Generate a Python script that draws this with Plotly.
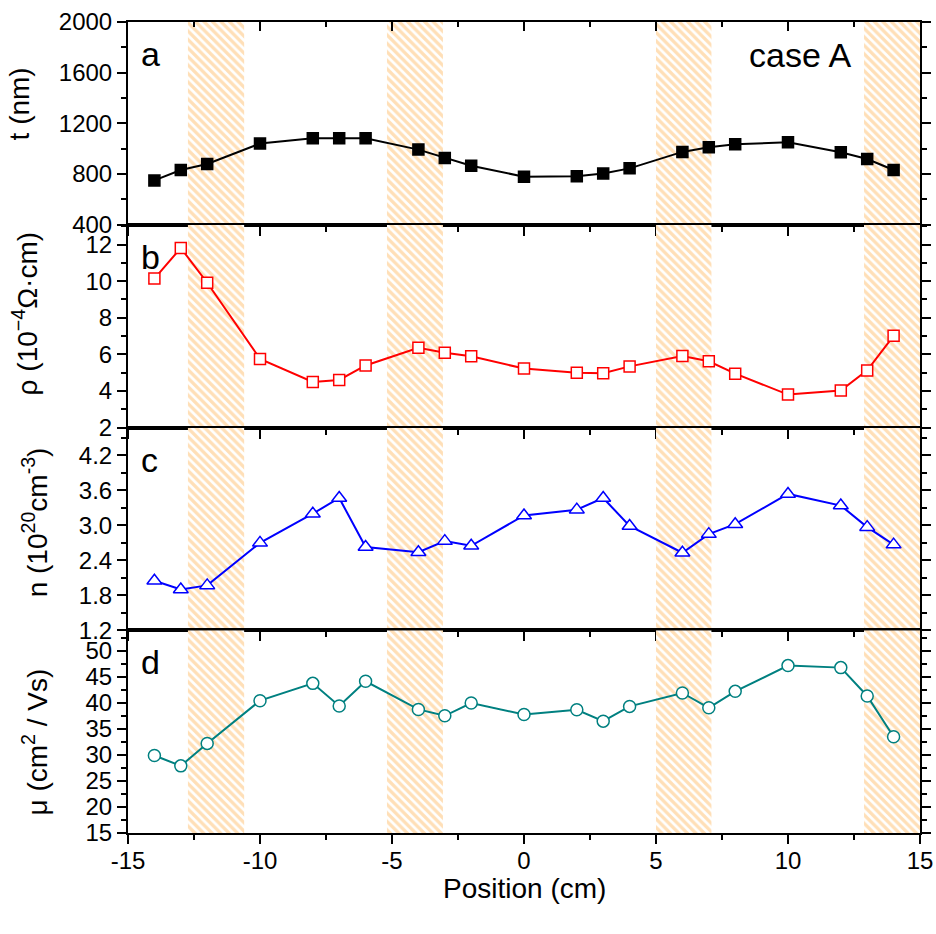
import plotly.graph_objects as go

# ---------------- data ----------------
x_pos = [-14, -13, -12, -10, -8, -7, -6, -4, -3, -2, 0, 2, 3, 4, 6, 7, 8, 10, 12, 13, 14]
t_nm = [750, 832, 879, 1041, 1083, 1083, 1083, 993, 927, 866, 779, 783, 805, 845,
        975, 1011, 1035, 1051, 972, 919, 832]
rho = [10.14, 11.81, 9.91, 5.75, 4.49, 4.60, 5.39, 6.36, 6.09, 5.89, 5.22, 4.99, 4.96,
       5.34, 5.91, 5.62, 4.94, 3.80, 4.02, 5.12, 7.01]
n_carrier = [2.05, 1.90, 1.97, 2.70, 3.20, 3.47, 2.63, 2.54, 2.73, 2.65, 3.17, 3.27, 3.47,
             2.99, 2.53, 2.85, 3.02, 3.54, 3.34, 2.97, 2.67]
mu = [29.87, 27.88, 32.19, 40.39, 43.71, 39.36, 44.10, 38.71, 37.49, 39.94, 37.75, 38.65,
      36.46, 39.29, 41.86, 39.03, 42.18, 47.12, 46.73, 41.29, 33.47]

band_start = [-12.73, -5.19, 5.0, 12.88]
band_end = [-10.6, -3.07, 7.1, 15.0]

x_tickvals = [-15, -10, -5, 0, 5, 10, 15]
x_ticktext = ["-15", "-10", "-5", "0", "5", "10", "15"]

panel_letters = ["a", "b", "c", "d"]
y_titles = ["t (nm)", "ρ (10<sup>−4</sup>Ω·cm)", "n (10<sup>20</sup>cm<sup>-3</sup>)",
            "μ (cm<sup>2</sup> / Vs)"]
y_ranges = [[400, 2000], [2, 13.08], [1.2, 4.68], [15, 53.9]]
y_dticks = [400, 2, 0.6, 5]
y_formats = ["d", "d", ".1f", "d"]

series = [t_nm, rho, n_carrier, mu]
colors = ["black", "#FF0000", "#0000FF", "#008080"]
symbols = ["square", "square", "triangle-up", "circle"]
fills = ["black", "white", "white", "white"]
msizes = [11, 11, 13, 12]

# ---------------- figure ----------------
FONT = "Liberation Sans, Arial, sans-serif"
fig = go.Figure()

domains = [[0.75, 1.0], [0.5, 0.75], [0.25, 0.5], [0.0, 0.25]]
xr = [-15, 15]

for i in range(4):
    xa = "x" if i == 0 else f"x{i+1}"
    ya = "y" if i == 0 else f"y{i+1}"
    y0, y1 = y_ranges[i]
    # hatched bands
    for bs, be in zip(band_start, band_end):
        fig.add_trace(go.Scatter(
            x=[bs, be, be, bs, bs], y=[y0, y0, y1, y1, y0],
            mode="none", fill="toself", fillcolor="rgba(255,255,255,0)",
            fillpattern=dict(shape="\\", fgcolor="#FFC070", bgcolor="white",
                             size=6, solidity=0.55),
            hoverinfo="skip", showlegend=False, xaxis=xa, yaxis=ya))
    # data
    fig.add_trace(go.Scatter(
        x=x_pos, y=series[i], mode="lines+markers",
        line=dict(color=colors[i], width=2),
        marker=dict(symbol=symbols[i], size=msizes[i],
                    color=fills[i], line=dict(color=colors[i], width=1.5)),
        showlegend=False, xaxis=xa, yaxis=ya))

# helper trace so that the top tick axis of panel a is drawn
fig.add_trace(go.Scatter(x=[0], y=[None], mode="markers", xaxis="x5", yaxis="y",
                         showlegend=False, hoverinfo="skip"))

layout = dict(
    width=936, height=934,
    margin=dict(l=128, r=16, t=22, b=101, autoexpand=False),
    paper_bgcolor="white", plot_bgcolor="rgba(0,0,0,0)",
    font=dict(family=FONT, size=24, color="black"),
    showlegend=False,
)

for i in range(4):
    xk = "xaxis" if i == 0 else f"xaxis{i+1}"
    yk = "yaxis" if i == 0 else f"yaxis{i+1}"
    ya = "y" if i == 0 else f"y{i+1}"
    xa = "x" if i == 0 else f"x{i+1}"
    layout[xk] = dict(
        range=xr, anchor=ya, domain=[0, 1], automargin=False,
        showline=True, linecolor="black", linewidth=2, mirror=True,
        ticks="outside", ticklen=9, tickwidth=2, tickcolor="black",
        tickvals=x_tickvals, ticktext=x_ticktext,
        minor=dict(ticks="outside", ticklen=5, tickwidth=2, dtick=2.5, tick0=0,
                   tickcolor="black", showgrid=False),
        showgrid=False, zeroline=False,
        showticklabels=(i == 3),
        tickfont=dict(size=24),
    )
    layout[yk] = dict(
        range=y_ranges[i], anchor=xa, domain=domains[i], automargin=False,
        showline=True, linecolor="black", linewidth=2, mirror="ticks",
        ticks="outside", ticklen=9, tickwidth=2, tickcolor="black",
        dtick=y_dticks[i], tick0=0, tickformat=y_formats[i],
        minor=dict(ticks="outside", ticklen=5, tickwidth=2, dtick=y_dticks[i] / 2,
                   tick0=0, tickcolor="black", showgrid=False),
        showgrid=False, zeroline=False,
        tickfont=dict(size=24),
    )

layout["xaxis4"]["ticklabelstandoff"] = -4

# top axis of panel a with inward ticks
layout["xaxis5"] = dict(
    range=xr, overlaying="x", side="top", anchor="y", automargin=False,
    showline=False, ticks="inside", ticklen=9, tickwidth=2, tickcolor="black",
    tickvals=x_tickvals, showticklabels=False,
    minor=dict(ticks="inside", ticklen=5, tickwidth=2, dtick=2.5, tick0=0,
               tickcolor="black"),
    showgrid=False, zeroline=False,
)

fig.update_layout(**layout)

# x-axis title
fig.add_annotation(x=0.5, y=-0.069, xref="paper", yref="paper", text="Position (cm)",
                   showarrow=False, xanchor="center", yanchor="middle",
                   font=dict(size=28, family=FONT))

# y-axis titles as rotated annotations
title_pos = [(-0.137, 0.899), (-0.1295, 0.640), (-0.117, 0.3835), (-0.117, 0.112)]
for (tx, ty), txt in zip(title_pos, y_titles):
    fig.add_annotation(x=tx, y=ty, xref="paper", yref="paper", text=txt,
                       textangle=-90, showarrow=False, xanchor="center",
                       yanchor="middle", font=dict(size=28, family=FONT))

# panel letters
for i, letter in enumerate(panel_letters):
    fig.add_annotation(x=0.014, y=domains[i][1], xref="paper", yref="paper",
                       text=letter, showarrow=False, xanchor="left", yanchor="top",
                       yshift=-11, font=dict(size=34, family=FONT))

fig.add_annotation(x=0.9154, y=1.0, xref="paper", yref="paper", text="case A",
                   showarrow=False, xanchor="right", yanchor="top", yshift=-12,
                   font=dict(size=34, family=FONT))

fig.write_html("out.html")
